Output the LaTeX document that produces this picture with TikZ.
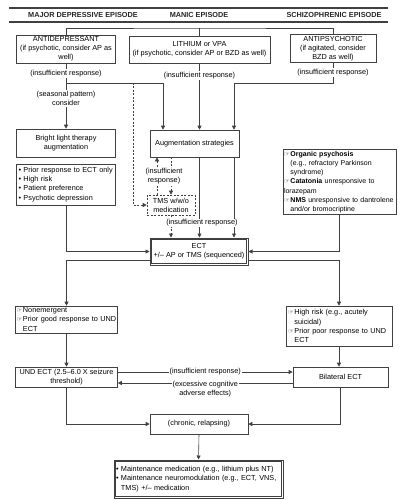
\documentclass[tikz,border=0pt]{standalone}
\usepackage{fontspec}
\setmainfont{Liberation Sans}
\newfontfamily\handfont{DejaVu Sans}
\usetikzlibrary{arrows.meta,positioning}
\tikzset{>={Triangle[length=4pt,width=4pt]}}
\newcommand\hand{{\handfont\fontsize{6.3}{5}\selectfont ☞}\hspace{0.8pt}}

\begin{document}
\begin{tikzpicture}[
    x=1pt, y=-1pt,
    box/.style={draw=black!75, line width=0.6pt, fill=white, align=center,
                inner xsep=2pt, inner ysep=1.5pt, font=\fontsize{7.3}{9.2}\selectfont},
    lbox/.style={box, align=left},
    dbox/.style={box, line width=1pt},
    inner/.style={draw=black!75, line width=0.45pt},
    tbox/.style={box, dashed, dash pattern=on 2pt off 1.5pt},
    head/.style={font=\fontsize{7.3}{9}\selectfont\bfseries, text=black!85},
    lbl/.style={fill=white, inner sep=1pt, align=center, font=\fontsize{7.3}{9.2}\selectfont},
    ln/.style={line width=0.6pt, draw=black!75},
    arr/.style={->, line width=0.6pt, draw=black!75},
    darr/.style={arr, dashed, dash pattern=on 2pt off 1.5pt}
  ]
    \useasboundingbox (0,0) rectangle (406,500);

    \draw[line width=1.2pt, black!75] (9,8) -- (388,8);
    \draw[line width=1.2pt, black!75] (9,22) -- (388,22);
    \node[head] (hmd)  at (83,15)  {MAJOR DEPRESSIVE EPISODE};
    \node[head] (hman) at (199,15) {MANIC EPISODE};
    \node[head] (hsz)  at (334,15) {SCHIZOPHRENIC EPISODE};

    \node[box, minimum width=99, minimum height=28]  (ad) at (66,49)     {ANTIDEPRESSANT\\(if psychotic, consider AP as\\well)};
    \node[box, minimum width=141, minimum height=27] (li) at (199.5,49.5) {LITHIUM or VPA\\(if psychotic, consider AP or BZD as well)};
    \node[box, minimum width=86, minimum height=27]  (ap) at (333,48.5)  {ANTIPSYCHOTIC\\(if agitated, consider\\BZD as well)};

    \node[box, minimum width=99, minimum height=28] (bright) at (66,143) {Bright light therapy\\augmentation};
    \node[lbox, text width=95, minimum height=41] (bul) at (66,184.5) {• Prior response to ECT only\\• High risk\\• Patient preference\\• Psychotic depression};
    \node[box, minimum width=89, minimum height=27] (aug) at (194.5,143.5) {Augmentation strategies};
    \node[tbox, minimum width=48, minimum height=20] (tms) at (171,205) {TMS w/w/o\\medication};
    \node[dbox, minimum width=98, minimum height=27] (ect) at (199,251.5) {ECT\\+/– AP or TMS (sequenced)};
    \draw[inner] ([shift={(1.8pt,1.8pt)}]ect.south west) rectangle ([shift={(-1.8pt,-1.8pt)}]ect.north east);
    \node[lbox, inner xsep=1pt, text width=111, minimum height=64, font=\fontsize{7}{9.2}\selectfont] (org) at (339.5,182)
      {\hand\textbf{Organic psychosis}\\\hphantom{\hand}(e.g., refractory Parkinson\\\hphantom{\hand}syndrome)\\\hand\textbf{Catatonia} unresponsive to\\lorazepam\\\hand\textbf{NMS} unresponsive to dantrolene\\\hphantom{\hand}and/or bromocriptine};

    \node[lbox, inner xsep=1pt, text width=100, minimum height=27] (nonem) at (66.5,319.5) {\hand Nonemergent\\\hand Prior good response to UND\\\hphantom{\hand}ECT};
    \node[lbox, text width=102, minimum height=40] (high) at (339,326) {\hand High risk (e.g., acutely\\\hphantom{\hand}suicidal)\\\hand Prior poor response to UND\\\hphantom{\hand}ECT};
    \node[box, minimum width=102, minimum height=20] (und) at (66.5,377) {UND ECT (2.5–6.0 X seizure\\threshold)};
    \node[box, minimum width=95, minimum height=20]  (bil) at (340.5,377) {Bilateral ECT};
    \node[box, minimum width=98, minimum height=20]  (chr) at (199,424) {(chronic, relapsing)};
    \node[dbox, align=left, text width=165, minimum height=38] (maint) at (198.5,479)
      {• Maintenance medication (e.g., lithium plus NT)\\• Maintenance neuromodulation (e.g., ECT, VNS,\\\hphantom{• }TMS) +/– medication};
    \draw[inner] ([shift={(1.8pt,1.8pt)}]maint.south west) rectangle ([shift={(-1.8pt,-1.8pt)}]maint.north east);

    \coordinate (top)  at (199.5,28);
    \coordinate (adj)  at (66,83);
    \coordinate (adr)  at (163,83);
    \coordinate (tmsj) at (133,83);
    \coordinate (apj)  at (333,83);
    \coordinate (apk)  at (234,83);

    \draw[ln] (ad.north) |- (top) -| (ap.north);
    \draw[ln] (li.north) -- (top);

    \draw[ln] (ad.south) -- node[lbl] (adlbl) {(insufficient response)} (adj);
    \draw[arr] (adj) -- node[lbl, pos=.34] (seas) {(seasonal pattern)\\consider} (bright.north);
    \draw[arr] (adj) -- (adr) -- (adr |- aug.north);
    \draw[darr] (tmsj) |- (tms.west);
    \draw[arr] (li.south) -- node[lbl, pos=.18] (lilbl) {(insufficient response)} (li.south |- aug.north);
    \draw[arr] (ap.south) -- node[lbl] (aplbl) {(insufficient response)} (apj) -- (apk) -- (apk |- aug.north);

    \draw[darr] ([xshift=-14pt]tms.north) -- ([xshift=-14pt]tms.north |- aug.south);
    \draw[darr] (tms.north |- aug.south) -- (tms.north);
    \node[lbl] (tmslbl) at (164,176.5) {(insufficient\\response)};

    \draw[arr] (li.south |- aug.south) -- (li.south |- ect.north);
    \draw[arr] (apk |- aug.south) -- (apk |- ect.north);
    \draw[darr] (tms.south) -- (tms.south |- ect.north);
    \node[lbl] (ectlbl) at (202,223) {(insufficient response)};

    \draw[arr] (bul.south) |- (ect.west);
    \draw[arr] ([yshift=-9pt]ect.west) -| (nonem.north);
    \draw[arr] (org.south) |- (ect.east);
    \draw[arr] ([yshift=-9pt]ect.east) -| (high.north);
    \draw[arr] (nonem.south) -- (und.north);
    \draw[arr] (high.south) -- (high.south |- bil.north);

    \draw[arr] ([yshift=5pt]und.east) -- node[lbl] (inslbl) {(insufficient response)} ([yshift=5pt]und.east -| bil.west);
    \draw[arr] ([yshift=-6pt]bil.west) -- node[lbl, yshift=-6pt] (advlbl) {(excessive cognitive\\adverse effects)} ([yshift=-6pt]bil.west -| und.east);
    \draw[arr] (und.south) |- (chr.west);
    \draw[arr] (bil.south) |- (chr.east);
    \draw[arr] (chr.south) -- (maint.north);
  \end{tikzpicture}
\end{document}
